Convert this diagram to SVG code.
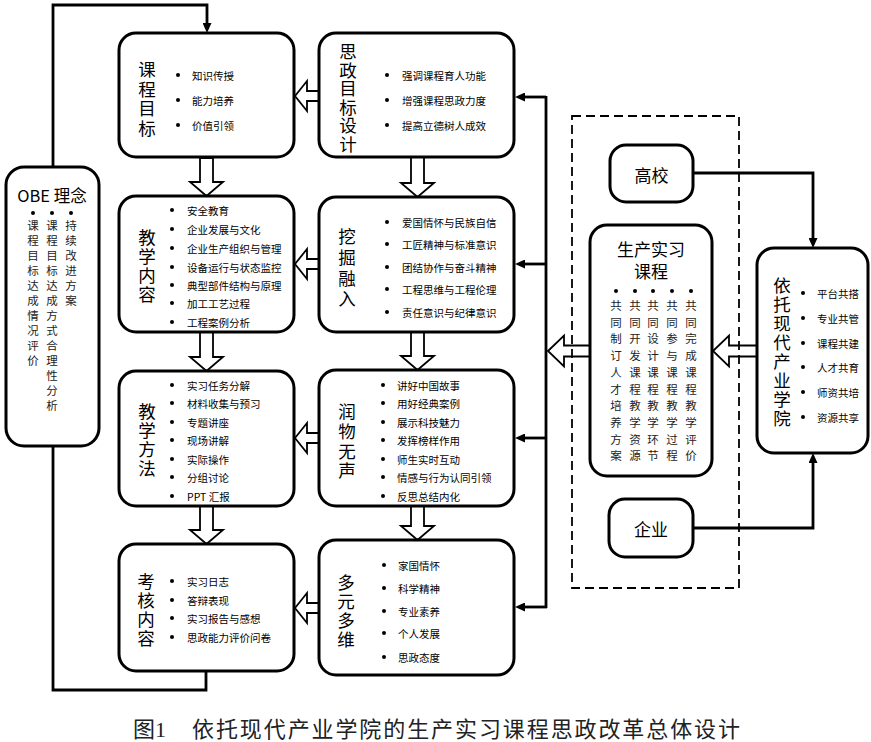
<svg xmlns="http://www.w3.org/2000/svg" width="871" height="742" viewBox="0 0 871 742">
<style>
.box{fill:#fff;stroke:#000;stroke-width:3}
.blk{fill:#fff;stroke:#000;stroke-width:1.8;stroke-linejoin:miter}
.ln{fill:none;stroke:#000;stroke-width:2.8}
.dash{fill:none;stroke:#000;stroke-width:1.8;stroke-dasharray:9 5}
text{font-family:"Noto Sans CJK SC","Noto Sans",sans-serif;fill:#000;dominant-baseline:central}
.ti{font-size:17.5px;text-anchor:middle}
.it{font-size:10.5px}
.col{font-size:11.5px;text-anchor:middle;fill:#222}
.cap{font-family:"Liberation Serif","Noto Sans CJK SC",serif;font-size:22px;fill:#222}
.dot{fill:#000}
</style>
<defs>
<marker id="ah" markerWidth="10" markerHeight="9" refX="0" refY="4.5" orient="auto" markerUnits="userSpaceOnUse">
<path d="M0,0 L10,4.5 L0,9 z" fill="#000"/>
</marker>
</defs>

<g id="connectors">
<path class="ln" d="M53,167 V5 H207 V23" marker-end="url(#ah)"/>
<path class="ln" d="M206,671 V690 H53 V446"/>
<path class="ln" d="M546,96 V608"/>
<path class="ln" d="M546,97 H525" marker-end="url(#ah)"/>
<path class="ln" d="M546,264 H525" marker-end="url(#ah)"/>
<path class="ln" d="M546,438 H525" marker-end="url(#ah)"/>
<path class="ln" d="M547,607 H525" marker-end="url(#ah)"/>
<path class="ln" d="M693,173 H813 V238" marker-end="url(#ah)"/>
<path class="ln" d="M693,528 H813 V463" marker-end="url(#ah)"/>
<path class="blk" d="M200,158 H213 V182 H223 L206.5,196 L190,182 H200 Z"/>
<path class="blk" d="M200,332 H213 V357 H223 L206.5,371 L190,357 H200 Z"/>
<path class="blk" d="M200,506 H213 V530 H223 L206.5,544 L190,530 H200 Z"/>
<path class="blk" d="M411,157 H424 V183 H434 L417.5,197 L401,183 H411 Z"/>
<path class="blk" d="M411,332 H424 V356 H434 L417.5,370 L401,356 H411 Z"/>
<path class="blk" d="M411,506 H424 V526 H434 L417.5,540 L401,526 H411 Z"/>
<path class="blk" d="M295,96 L307,81 V91 H319 V101 H307 V111 Z"/>
<path class="blk" d="M295,264 L307,249 V259 H319 V269 H307 V279 Z"/>
<path class="blk" d="M295,438 L307,423 V433 H319 V443 H307 V453 Z"/>
<path class="blk" d="M295,608 L307,593 V603 H319 V613 H307 V623 Z"/>
<path class="blk" d="M548,351 L564,335.5 V345.5 H590 V356.5 H564 V366.5 Z"/>
<path class="blk" d="M713,351 L729,335.5 V345.5 H757 V356.5 H729 V366.5 Z"/>
</g>

<rect id="dashed-frame" class="dash" x="572" y="116" width="167" height="472"/>

<g id="obe">
<rect class="box" x="6" y="167" width="93" height="279" rx="18"/>
<text x="52" y="195" style="font-size:16.5px;text-anchor:middle">OBE 理念</text>
<circle class="dot" cx="33" cy="213" r="2"/><circle class="dot" cx="52" cy="213" r="2"/><circle class="dot" cx="71" cy="213" r="2"/>
<text class="col"><tspan x="33" y="225">课</tspan><tspan x="33" y="240">程</tspan><tspan x="33" y="255">目</tspan><tspan x="33" y="270">标</tspan><tspan x="33" y="285">达</tspan><tspan x="33" y="300">成</tspan><tspan x="33" y="315">情</tspan><tspan x="33" y="330">况</tspan><tspan x="33" y="345">评</tspan><tspan x="33" y="360">价</tspan></text>
<text class="col"><tspan x="52" y="225">课</tspan><tspan x="52" y="240">程</tspan><tspan x="52" y="255">目</tspan><tspan x="52" y="270">标</tspan><tspan x="52" y="285">达</tspan><tspan x="52" y="300">成</tspan><tspan x="52" y="315">方</tspan><tspan x="52" y="330">式</tspan><tspan x="52" y="345">合</tspan><tspan x="52" y="360">理</tspan><tspan x="52" y="375">性</tspan><tspan x="52" y="390">分</tspan><tspan x="52" y="405">析</tspan></text>
<text class="col"><tspan x="71" y="225">持</tspan><tspan x="71" y="240">续</tspan><tspan x="71" y="255">改</tspan><tspan x="71" y="270">进</tspan><tspan x="71" y="285">方</tspan><tspan x="71" y="300">案</tspan></text>
</g>

<g id="kecheng-mubiao">
<rect class="box" x="119" y="33" width="175" height="124" rx="17"/>
<text class="ti"><tspan x="147" y="68">课</tspan><tspan x="147" y="87.5">程</tspan><tspan x="147" y="107">目</tspan><tspan x="147" y="126.5">标</tspan></text>
<circle class="dot" cx="178" cy="75" r="2"/><circle class="dot" cx="178" cy="100" r="2"/><circle class="dot" cx="178" cy="125" r="2"/>
<text class="it" x="192" y="75">知识传授</text>
<text class="it" x="192" y="100">能力培养</text>
<text class="it" x="192" y="125">价值引领</text>
</g>

<g id="sizheng-mubiao">
<rect class="box" x="319" y="33" width="195" height="124" rx="17"/>
<text class="ti"><tspan x="348" y="50">思</tspan><tspan x="348" y="68.6">政</tspan><tspan x="348" y="87.2">目</tspan><tspan x="348" y="105.8">标</tspan><tspan x="348" y="124.4">设</tspan><tspan x="348" y="143">计</tspan></text>
<circle class="dot" cx="387" cy="75" r="2"/><circle class="dot" cx="387" cy="100" r="2"/><circle class="dot" cx="387" cy="125" r="2"/>
<text class="it" x="402" y="75">强调课程育人功能</text>
<text class="it" x="402" y="100">增强课程思政力度</text>
<text class="it" x="402" y="125">提高立德树人成效</text>
</g>

<g id="jiaoxue-neirong">
<rect class="box" x="119" y="196" width="175" height="136" rx="17"/>
<text class="ti"><tspan x="147" y="236">教</tspan><tspan x="147" y="255">学</tspan><tspan x="147" y="274">内</tspan><tspan x="147" y="293">容</tspan></text>
<circle class="dot" cx="172" cy="210" r="2"/><circle class="dot" cx="172" cy="229" r="2"/><circle class="dot" cx="172" cy="248" r="2"/><circle class="dot" cx="172" cy="267" r="2"/><circle class="dot" cx="172" cy="285" r="2"/><circle class="dot" cx="172" cy="303" r="2"/><circle class="dot" cx="172" cy="322" r="2"/>
<text class="it" x="187" y="210">安全教育</text>
<text class="it" x="187" y="229">企业发展与文化</text>
<text class="it" x="187" y="248">企业生产组织与管理</text>
<text class="it" x="187" y="267">设备运行与状态监控</text>
<text class="it" x="187" y="285">典型部件结构与原理</text>
<text class="it" x="187" y="303">加工工艺过程</text>
<text class="it" x="187" y="322">工程案例分析</text>
</g>

<g id="wajue-rongru">
<rect class="box" x="319" y="197" width="195" height="135" rx="17"/>
<text class="ti"><tspan x="347" y="235">挖</tspan><tspan x="347" y="256">掘</tspan><tspan x="347" y="277">融</tspan><tspan x="347" y="297">入</tspan></text>
<circle class="dot" cx="387" cy="222" r="2"/><circle class="dot" cx="387" cy="244" r="2"/><circle class="dot" cx="387" cy="267" r="2"/><circle class="dot" cx="387" cy="289" r="2"/><circle class="dot" cx="387" cy="312" r="2"/>
<text class="it" x="402" y="222">爱国情怀与民族自信</text>
<text class="it" x="402" y="244">工匠精神与标准意识</text>
<text class="it" x="402" y="267">团结协作与奋斗精神</text>
<text class="it" x="402" y="289">工程思维与工程伦理</text>
<text class="it" x="402" y="312">责任意识与纪律意识</text>
</g>

<g id="jiaoxue-fangfa">
<rect class="box" x="119" y="371" width="175" height="135" rx="17"/>
<text class="ti"><tspan x="147" y="410">教</tspan><tspan x="147" y="429">学</tspan><tspan x="147" y="448">方</tspan><tspan x="147" y="467">法</tspan></text>
<circle class="dot" cx="172" cy="385" r="2"/><circle class="dot" cx="172" cy="403" r="2"/><circle class="dot" cx="172" cy="422" r="2"/><circle class="dot" cx="172" cy="440" r="2"/><circle class="dot" cx="172" cy="459" r="2"/><circle class="dot" cx="172" cy="477" r="2"/><circle class="dot" cx="172" cy="496" r="2"/>
<text class="it" x="187" y="385">实习任务分解</text>
<text class="it" x="187" y="403">材料收集与预习</text>
<text class="it" x="187" y="422">专题讲座</text>
<text class="it" x="187" y="440">现场讲解</text>
<text class="it" x="187" y="459">实际操作</text>
<text class="it" x="187" y="477">分组讨论</text>
<text class="it" x="187" y="496">PPT 汇报</text>
</g>

<g id="runwu-wusheng">
<rect class="box" x="319" y="370" width="195" height="136" rx="17"/>
<text class="ti"><tspan x="347" y="410">润</tspan><tspan x="347" y="430">物</tspan><tspan x="347" y="450">无</tspan><tspan x="347" y="469">声</tspan></text>
<circle class="dot" cx="383" cy="385" r="2"/><circle class="dot" cx="383" cy="403" r="2"/><circle class="dot" cx="383" cy="422" r="2"/><circle class="dot" cx="383" cy="440" r="2"/><circle class="dot" cx="383" cy="459" r="2"/><circle class="dot" cx="383" cy="477" r="2"/><circle class="dot" cx="383" cy="496" r="2"/>
<text class="it" x="397" y="385">讲好中国故事</text>
<text class="it" x="397" y="403">用好经典案例</text>
<text class="it" x="397" y="422">展示科技魅力</text>
<text class="it" x="397" y="440">发挥榜样作用</text>
<text class="it" x="397" y="459">师生实时互动</text>
<text class="it" x="397" y="477">情感与行为认同引领</text>
<text class="it" x="397" y="496">反思总结内化</text>
</g>

<g id="kaohe-neirong">
<rect class="box" x="119" y="544" width="175" height="127" rx="17"/>
<text class="ti"><tspan x="146" y="580">考</tspan><tspan x="146" y="599">核</tspan><tspan x="146" y="618">内</tspan><tspan x="146" y="637">容</tspan></text>
<circle class="dot" cx="172" cy="581" r="2"/><circle class="dot" cx="172" cy="600" r="2"/><circle class="dot" cx="172" cy="618" r="2"/><circle class="dot" cx="172" cy="637" r="2"/>
<text class="it" x="187" y="581">实习日志</text>
<text class="it" x="187" y="600">答辩表现</text>
<text class="it" x="187" y="618">实习报告与感想</text>
<text class="it" x="187" y="637">思政能力评价问卷</text>
</g>

<g id="duoyuan-duowei">
<rect class="box" x="319" y="540" width="195" height="135" rx="17"/>
<text class="ti"><tspan x="346" y="581">多</tspan><tspan x="346" y="600">元</tspan><tspan x="346" y="619">多</tspan><tspan x="346" y="638">维</tspan></text>
<circle class="dot" cx="384" cy="565" r="2"/><circle class="dot" cx="384" cy="588" r="2"/><circle class="dot" cx="384" cy="611" r="2"/><circle class="dot" cx="384" cy="633" r="2"/><circle class="dot" cx="384" cy="657" r="2"/>
<text class="it" x="398" y="565">家国情怀</text>
<text class="it" x="398" y="588">科学精神</text>
<text class="it" x="398" y="611">专业素养</text>
<text class="it" x="398" y="633">个人发展</text>
<text class="it" x="398" y="657">思政态度</text>
</g>

<g id="gaoxiao">
<rect class="box" x="610" y="145" width="83" height="57" rx="16"/>
<text x="651.5" y="174" style="font-size:17px;text-anchor:middle">高校</text>
</g>

<g id="shengchan-shixi">
<rect class="box" x="590" y="225" width="122" height="251" rx="17"/>
<text x="651" y="248" style="font-size:17px;text-anchor:middle">生产实习</text>
<text x="651" y="270" style="font-size:17px;text-anchor:middle">课程</text>
<circle class="dot" cx="616" cy="291" r="2"/><circle class="dot" cx="635" cy="291" r="2"/><circle class="dot" cx="653" cy="291" r="2"/><circle class="dot" cx="672" cy="291" r="2"/><circle class="dot" cx="691" cy="291" r="2"/>
<text class="col"><tspan x="616" y="305">共</tspan><tspan x="616" y="321.7">同</tspan><tspan x="616" y="338.4">制</tspan><tspan x="616" y="355.1">订</tspan><tspan x="616" y="371.8">人</tspan><tspan x="616" y="388.5">才</tspan><tspan x="616" y="405.2">培</tspan><tspan x="616" y="421.9">养</tspan><tspan x="616" y="438.6">方</tspan><tspan x="616" y="455.3">案</tspan></text>
<text class="col"><tspan x="635" y="305">共</tspan><tspan x="635" y="321.7">同</tspan><tspan x="635" y="338.4">开</tspan><tspan x="635" y="355.1">发</tspan><tspan x="635" y="371.8">课</tspan><tspan x="635" y="388.5">程</tspan><tspan x="635" y="405.2">教</tspan><tspan x="635" y="421.9">学</tspan><tspan x="635" y="438.6">资</tspan><tspan x="635" y="455.3">源</tspan></text>
<text class="col"><tspan x="653" y="305">共</tspan><tspan x="653" y="321.7">同</tspan><tspan x="653" y="338.4">设</tspan><tspan x="653" y="355.1">计</tspan><tspan x="653" y="371.8">课</tspan><tspan x="653" y="388.5">程</tspan><tspan x="653" y="405.2">教</tspan><tspan x="653" y="421.9">学</tspan><tspan x="653" y="438.6">环</tspan><tspan x="653" y="455.3">节</tspan></text>
<text class="col"><tspan x="672" y="305">共</tspan><tspan x="672" y="321.7">同</tspan><tspan x="672" y="338.4">参</tspan><tspan x="672" y="355.1">与</tspan><tspan x="672" y="371.8">课</tspan><tspan x="672" y="388.5">程</tspan><tspan x="672" y="405.2">教</tspan><tspan x="672" y="421.9">学</tspan><tspan x="672" y="438.6">过</tspan><tspan x="672" y="455.3">程</tspan></text>
<text class="col"><tspan x="691" y="305">共</tspan><tspan x="691" y="321.7">同</tspan><tspan x="691" y="338.4">完</tspan><tspan x="691" y="355.1">成</tspan><tspan x="691" y="371.8">课</tspan><tspan x="691" y="388.5">程</tspan><tspan x="691" y="405.2">教</tspan><tspan x="691" y="421.9">学</tspan><tspan x="691" y="438.6">评</tspan><tspan x="691" y="455.3">价</tspan></text>
</g>

<g id="qiye">
<rect class="box" x="609" y="499" width="84" height="58" rx="16"/>
<text x="651" y="528" style="font-size:17px;text-anchor:middle">企业</text>
</g>

<g id="chanye-xueyuan">
<rect class="box" x="757" y="248" width="111" height="205" rx="17"/>
<text class="ti"><tspan x="782" y="284">依</tspan><tspan x="782" y="303">托</tspan><tspan x="782" y="322">现</tspan><tspan x="782" y="341">代</tspan><tspan x="782" y="360">产</tspan><tspan x="782" y="379">业</tspan><tspan x="782" y="398">学</tspan><tspan x="782" y="417">院</tspan></text>
<circle class="dot" cx="803" cy="293" r="2"/><circle class="dot" cx="803" cy="318" r="2"/><circle class="dot" cx="803" cy="343" r="2"/><circle class="dot" cx="803" cy="367" r="2"/><circle class="dot" cx="803" cy="392" r="2"/><circle class="dot" cx="803" cy="417" r="2"/>
<text class="it" x="817" y="293">平台共搭</text>
<text class="it" x="817" y="318">专业共管</text>
<text class="it" x="817" y="343">课程共建</text>
<text class="it" x="817" y="367">人才共育</text>
<text class="it" x="817" y="392">师资共培</text>
<text class="it" x="817" y="417">资源共享</text>
</g>

<g id="caption">
<text class="cap" x="133" y="729">图1</text>
<text class="cap" x="192" y="729" textLength="548" lengthAdjust="spacing">依托现代产业学院的生产实习课程思政改革总体设计</text>
</g>
</svg>
